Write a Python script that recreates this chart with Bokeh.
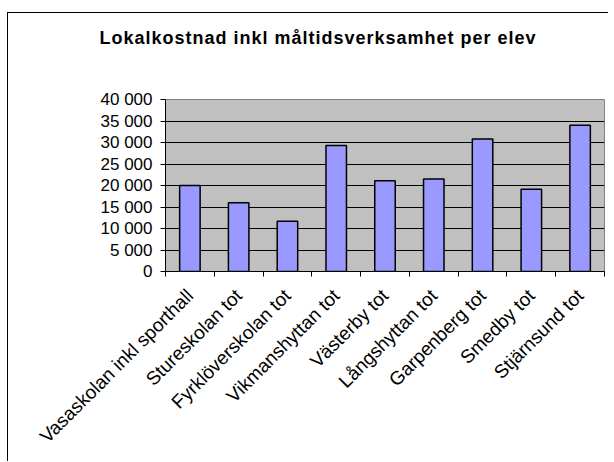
from math import pi
from bokeh.plotting import figure
from bokeh.models import Range1d, FixedTicker, Div
from bokeh.layouts import column
from bokeh.embed import file_html
from bokeh.resources import INLINE

title_text = "Lokalkostnad inkl måltidsverksamhet per elev"
categories = ["Vasaskolan inkl sporthall", "Stureskolan tot", "Fyrklöverskolan tot",
              "Vikmanshyttan tot", "Västerby tot", "Långshyttan tot",
              "Garpenberg tot", "Smedby tot", "Stjärnsund tot"]
values = [20000, 16000, 11700, 29300, 21100, 21500, 30800, 19100, 34000]
y_ticks = [0, 5000, 10000, 15000, 20000, 25000, 30000, 35000, 40000]
y_tick_labels = ["0", "5 000", "10 000", "15 000", "20 000", "25 000", "30 000", "35 000", "40 000"]

n = len(categories)
centers = [i + 0.5 for i in range(n)]
bounds = [float(i) for i in range(n + 1)]

FONT = "Liberation Sans"

title_div = Div(
    text=(f'<div style="position:absolute; left:0px; top:13px; width:620px; '
          f'text-align:center; font-family:\'{FONT}\'; font-size:18px; '
          f'letter-spacing:1px; font-weight:bold; color:black; '
          f'white-space:nowrap">{title_text}</div>'),
    width=600, height=50, margin=0, styles={"position": "relative"})

p = figure(width=600, height=398, output_backend="svg", toolbar_location=None,
           x_range=Range1d(0, n), y_range=Range1d(y_ticks[0], y_ticks[-1]),
           min_border_left=157, min_border_right=4, min_border_top=36,
           min_border_bottom=190, border_fill_color="white",
           title_location=None, margin=0)

p.background_fill_color = "#C0C0C0"
p.outline_line_color = "#808080"
p.outline_line_width = 1

p.vbar(x=centers, top=values, width=0.42, fill_color="#9999FF",
       line_color="black", line_width=1.5)

p.yaxis.ticker = FixedTicker(ticks=y_ticks)
p.yaxis.major_label_overrides = {t: l for t, l in zip(y_ticks, y_tick_labels)}
p.yaxis.major_label_text_font = FONT
p.yaxis.major_label_text_font_size = "17px"
p.yaxis.major_label_text_color = "black"
p.yaxis.major_tick_out = 5
p.yaxis.major_tick_in = 0
p.yaxis.minor_tick_line_color = None
p.yaxis.axis_line_color = "black"
p.yaxis.major_tick_line_color = "black"
p.yaxis.major_label_standoff = 8

p.xaxis.ticker = FixedTicker(ticks=centers, minor_ticks=bounds)
p.xaxis.major_label_overrides = {c: name for c, name in zip(centers, categories)}
p.xaxis.major_label_orientation = pi / 4
p.xaxis.major_label_text_font = FONT
p.xaxis.major_label_text_font_size = "19px"
p.xaxis.major_label_text_color = "black"
p.xaxis.major_tick_line_color = None
p.xaxis.minor_tick_line_color = "black"
p.xaxis.minor_tick_out = 5
p.xaxis.minor_tick_in = 0
p.xaxis.axis_line_color = "black"
p.xaxis.major_label_standoff = 15

p.xgrid.grid_line_color = None
p.ygrid.ticker = FixedTicker(ticks=y_ticks[1:-1])
p.ygrid.grid_line_color = "black"
p.ygrid.grid_line_width = 1

layout = column(title_div, p, spacing=0,
                styles={"margin-left": "7px", "margin-top": "12px",
                        "border-left": "1px solid black",
                        "border-top": "1px solid black",
                        "background-color": "white"})

open("out.html", "w").write(file_html(layout, INLINE))
